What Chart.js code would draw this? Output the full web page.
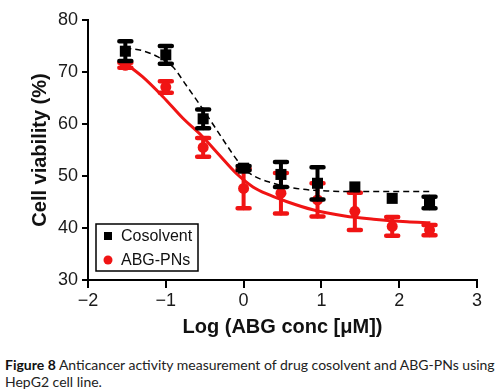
<!DOCTYPE html>
<html>
<head>
<meta charset="utf-8">
<script src="https://cdn.jsdelivr.net/npm/chart.js@4.4.1/dist/chart.umd.min.js"></script>
<style>
  body { margin: 0; background: #fff; width: 504px; height: 391px; overflow: hidden; position: relative; }
  #chart { position: absolute; left: 0; top: 0; }
  #caption {
    position: absolute; left: 5px; top: 356px;
    font-family: Lato, "Open Sans", sans-serif; font-size: 14px; line-height: 17px;
    color: #222; white-space: nowrap;
  }
  #caption b { color: #111; }
</style>
</head>
<body>
<canvas id="chart" width="504" height="345"></canvas>
<div id="caption"><b>Figure 8</b> Anticancer activity measurement of drug cosolvent and ABG-PNs using<br>HepG2 cell line.</div>
<script>
// log dose values
const logDose = [-1.52, -1.0, -0.52, 0.0, 0.48, 0.95, 1.43, 1.91, 2.39];

// Cosolvent means and SD
const cosolventMean = [74.0, 73.3, 61.0, 51.5, 50.3, 48.6, 47.9, 45.7, 44.9];
const cosolventErr  = [1.9, 1.7, 1.8, 0.4, 2.4, 3.1, 0, 0, 1.1];

// ABG-PNs means and SD
const abgMean = [71.3, 67.1, 55.5, 47.6, 46.7, 45.4, 43.2, 40.3, 39.6];
const abgErr  = [0.5, 1.1, 1.8, 3.8, 3.9, 3.2, 3.6, 1.8, 1.0];

// fitted curves
const cosolventFitX = [-1.52, -1.3, -1.1, -0.91, -0.74, -0.59, -0.4, -0.22, -0.07, 0.08, 0.38, 0.68, 1.1, 1.5, 2.0, 2.39];
const cosolventFitY = [74.6, 74.1, 72.9, 71.0, 67.5, 64.3, 60.1, 56.0, 52.8, 50.5, 48.6, 47.6, 47.1, 47.0, 47.0, 47.0];
const abgFitX = [-1.55, -1.3, -1.04, -0.78, -0.53, -0.31, -0.1, 0.12, 0.34, 0.55, 0.89, 1.3, 1.67, 2.1, 2.4];
const abgFitY = [72.0, 69.1, 65.3, 61.1, 57.6, 54.0, 50.6, 47.9, 46.3, 45.1, 43.5, 42.3, 41.7, 41.2, 41.0];

const xTicks = [-2, -1, 0, 1, 2, 3];
const yTicks = [30, 40, 50, 60, 70, 80];

const RED = '#f01414';
const FONT = '"Liberation Sans", Arial, sans-serif';

function pts(xs, ys) { return xs.map((x, i) => ({ x: x, y: ys[i] })); }

// error bars drawn just before each dataset's points
const errorBars = {
  id: 'errorBars',
  beforeDatasetDraw(chart, args) {
    const ds = chart.data.datasets[args.index];
    if (!ds.errors) return;
    const ctx = chart.ctx;
    const xs = chart.scales.x, ys = chart.scales.y;
    ctx.save();
    ctx.strokeStyle = ds.backgroundColor;
    ctx.lineCap = 'round';
    ds.data.forEach((p, i) => {
      const e = ds.errors[i];
      if (!e) return;
      const px = xs.getPixelForValue(p.x);
      const top = ys.getPixelForValue(p.y + e);
      const bot = ys.getPixelForValue(p.y - e);
      ctx.lineWidth = 4;
      ctx.beginPath();
      ctx.moveTo(px, top); ctx.lineTo(px, bot);
      ctx.stroke();
      ctx.lineWidth = 4.5;
      ctx.beginPath();
      ctx.moveTo(px - 6, top); ctx.lineTo(px + 6, top);
      ctx.moveTo(px - 6, bot); ctx.lineTo(px + 6, bot);
      ctx.stroke();
    });
    ctx.restore();
  }
};

// legend box inside the plot, bottom left
const boxLegend = {
  id: 'boxLegend',
  afterDraw(chart) {
    const ctx = chart.ctx;
    const area = chart.chartArea;
    const items = chart.data.datasets.filter(d => d.inLegend);
    const left = area.left + 8, top = area.bottom - 56, w = 102, h = 47;
    ctx.save();
    ctx.fillStyle = '#fff';
    ctx.fillRect(left, top, w, h);
    ctx.strokeStyle = '#000';
    ctx.lineWidth = 1.5;
    ctx.strokeRect(left, top, w, h);
    ctx.font = '16px ' + FONT;
    ctx.textBaseline = 'middle';
    items.forEach((d, i) => {
      const cy = top + 12 + i * 24;
      const cx = left + 12;
      ctx.fillStyle = d.backgroundColor;
      if (d.pointStyle === 'rect') {
        ctx.fillRect(cx - 4, cy - 4, 8, 8);
      } else {
        ctx.beginPath(); ctx.arc(cx, cy, 4.5, 0, Math.PI * 2); ctx.fill();
      }
      ctx.fillStyle = '#111';
      ctx.fillText(d.label, left + 25, cy + 1);
    });
    ctx.restore();
  }
};

new Chart(document.getElementById('chart'), {
  type: 'scatter',
  data: {
    datasets: [
      {
        label: 'Cosolvent',
        data: pts(logDose, cosolventMean),
        errors: cosolventErr,
        inLegend: true,
        pointStyle: 'rect',
        pointRadius: 7.8,
        backgroundColor: '#000',
        borderWidth: 0,
        order: 1
      },
      {
        label: 'Cosolvent fit',
        data: pts(cosolventFitX, cosolventFitY),
        showLine: true,
        pointRadius: 0,
        borderColor: '#000',
        borderWidth: 1.5,
        borderDash: [6, 4],
        cubicInterpolationMode: 'monotone',
        order: 2
      },
      {
        label: 'ABG-PNs',
        data: pts(logDose, abgMean),
        errors: abgErr,
        inLegend: true,
        pointStyle: 'circle',
        pointRadius: 5.5,
        backgroundColor: RED,
        borderWidth: 0,
        order: 3
      },
      {
        label: 'ABG-PNs fit',
        data: pts(abgFitX, abgFitY),
        showLine: true,
        pointRadius: 0,
        borderColor: RED,
        borderWidth: 3,
        cubicInterpolationMode: 'monotone',
        order: 4
      }
    ]
  },
  options: {
    responsive: false,
    animation: false,
    layout: { padding: { top: 20, right: 27, left: 0, bottom: 0 } },
    plugins: { legend: { display: false }, tooltip: { enabled: false } },
    scales: {
      x: {
        type: 'linear',
        min: -2, max: 3,
        afterBuildTicks: s => { s.ticks = xTicks.map(v => ({ value: v })); },
        afterFit: s => { s.height = 65; },
        ticks: {
          color: '#1a1a1a',
          font: { family: FONT, size: 18 },
          padding: 2,
          maxRotation: 0,
          callback: v => String(v).replace('-', '\u2212')
        },
        grid: { drawOnChartArea: false, drawTicks: true, tickLength: 8, color: '#000', lineWidth: 2 },
        border: { display: true, color: '#000', width: 2 },
        title: {
          display: true,
          text: 'Log (ABG conc [\u03bcM])',
          color: '#111',
          font: { family: FONT, size: 20, weight: 'bold' },
          padding: { top: 0, bottom: 6 }
        }
      },
      y: {
        min: 30, max: 80,
        afterBuildTicks: s => { s.ticks = yTicks.map(v => ({ value: v })); },
        afterFit: s => { s.width = 88; },
        ticks: {
          color: '#1a1a1a',
          font: { family: FONT, size: 18 },
          padding: 4
        },
        grid: { drawOnChartArea: false, drawTicks: true, tickLength: 6, color: '#000', lineWidth: 2 },
        border: { display: true, color: '#000', width: 2 },
        title: {
          display: true,
          text: 'Cell viability (%)',
          color: '#111',
          font: { family: FONT, size: 20, weight: 'bold' },
          padding: { top: 28, bottom: 0 }
        }
      }
    }
  },
  plugins: [errorBars, boxLegend]
});
</script>
</body>
</html>
